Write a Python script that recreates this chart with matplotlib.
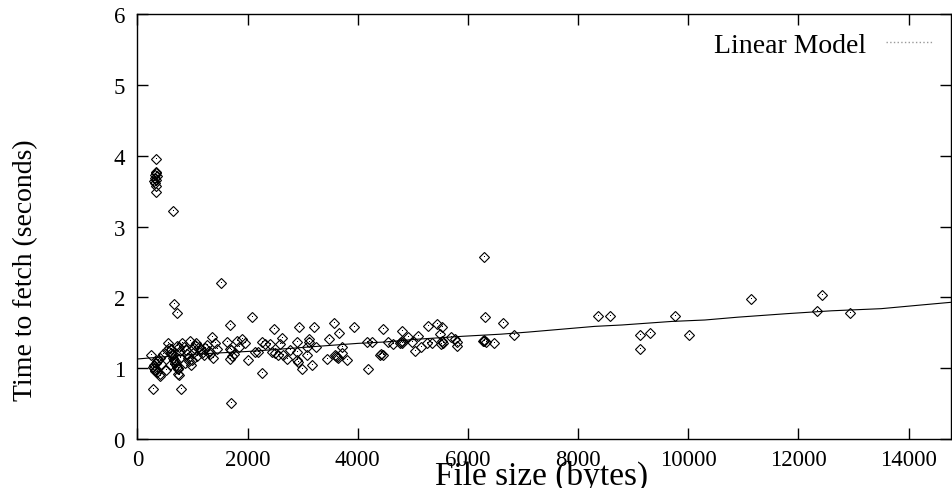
import matplotlib
matplotlib.use('Agg')
import matplotlib.pyplot as plt
from matplotlib.lines import Line2D

plt.rc('font', family='serif')
plt.rc('font', serif=['Liberation Serif', 'DejaVu Serif'])

# measured fetches: file size (bytes) / time (seconds)
size_top = [340, 330, 345, 320, 350, 310, 335, 300, 325, 340, 345, 645, 1510, 662, 711, 6290]
time_top = [3.96, 3.77, 3.75, 3.73, 3.71, 3.68, 3.66, 3.64, 3.62, 3.57, 3.49, 3.22, 2.20, 1.90, 1.78, 2.57]

size_hi = [1680, 2080, 2480, 2930, 3200, 3570, 3660, 3930, 4450, 4810, 5280, 5440, 5520,
           6310, 6630, 6840, 5490, 5095, 4915]
time_hi = [1.61, 1.72, 1.55, 1.58, 1.58, 1.64, 1.50, 1.58, 1.55, 1.52, 1.59, 1.62, 1.58,
           1.72, 1.64, 1.47, 1.48, 1.45, 1.44]

size_far = [8365, 8575, 9120, 9300, 9120, 9755, 10015, 11135, 12430, 12345, 12930]
time_far = [1.73, 1.73, 1.47, 1.49, 1.27, 1.73, 1.47, 1.98, 2.03, 1.81, 1.78]

size_low = [287, 790, 1697, 2260, 2980, 3160, 4180]
time_low = [0.71, 0.71, 0.51, 0.93, 0.99, 1.05, 0.99]

size_mid = [2260, 2315, 2405, 2585, 2625, 2890, 3115, 3115, 3475, 3250, 3705, 3070, 2130,
            2440, 2495, 2550, 2640, 2715, 2770, 2900, 2900, 2910, 3070, 3435, 3590, 3620,
            3640, 3610, 3710, 3795, 4160, 4250, 4430, 4400, 4460, 4550, 4640, 4765, 4790,
            4810, 4800, 4975, 5035, 5140, 5250, 5340, 5510, 5530, 5545, 5700, 5760, 5805,
            5805, 6275, 6300, 6325, 6300, 6475]
time_mid = [1.37, 1.34, 1.34, 1.34, 1.43, 1.37, 1.41, 1.37, 1.41, 1.30, 1.30, 1.30, 1.23,
            1.23, 1.21, 1.19, 1.19, 1.13, 1.25, 1.23, 1.11, 1.09, 1.19, 1.13, 1.18, 1.16,
            1.14, 1.17, 1.21, 1.11, 1.37, 1.37, 1.20, 1.18, 1.19, 1.37, 1.34, 1.36, 1.37,
            1.36, 1.38, 1.37, 1.24, 1.30, 1.36, 1.36, 1.34, 1.39, 1.36, 1.44, 1.41, 1.37,
            1.32, 1.39, 1.40, 1.37, 1.38, 1.36]

size_dense = [245, 280, 300, 310, 330, 350, 360, 380, 300, 320, 400, 420, 408, 408, 463,
              555, 711, 540, 580, 600, 620, 650, 660, 680, 700, 720, 740, 760, 610, 640,
              690, 730, 770, 510, 735, 753, 780, 800, 590,
              953, 850, 880, 900, 920, 940, 970, 1000, 1020, 1050, 1080, 990, 1060, 870,
              1346, 1120, 1150, 1180, 1200, 1230, 1260, 1290, 1320, 1380, 1410, 1440,
              1620, 1800, 1900, 1680, 1680, 2005, 1750, 1720, 1850, 1950, 2190, 1700]
time_dense = [1.19, 1.02, 1.05, 0.98, 1.08, 0.95, 1.10, 1.12, 1.00, 0.96, 1.15, 1.06, 0.92, 0.89, 1.20,
              1.36, 1.32, 1.25, 1.28, 1.22, 1.18, 1.15, 1.12, 1.10, 1.05, 1.02, 0.99, 1.30, 1.27, 1.20,
              1.08, 1.00, 1.24, 0.97, 0.92, 0.90, 1.14, 1.35, 1.04,
              1.39, 1.30, 1.25, 1.20, 1.15, 1.10, 1.05, 1.22, 1.28, 1.33, 1.17, 1.12, 1.35, 1.08,
              1.44, 1.30, 1.26, 1.22, 1.18, 1.28, 1.33, 1.24, 1.20, 1.15, 1.36, 1.27,
              1.37, 1.39, 1.41, 1.27, 1.13, 1.11, 1.20, 1.17, 1.30, 1.35, 1.23, 1.25]

# fitted model
model_size = [0, 1100, 2100, 3300, 4000, 4500, 5100, 5900, 6600, 7100, 7700, 8300, 8800,
              9700, 10300, 10900, 11800, 12600, 13500, 14200, 14770]
model_time = [1.13, 1.20, 1.24, 1.31, 1.35, 1.37, 1.41, 1.45, 1.48, 1.51, 1.55, 1.59, 1.61,
              1.66, 1.68, 1.72, 1.77, 1.81, 1.84, 1.89, 1.93]

sizes = size_top + size_hi + size_far + size_low + size_mid + size_dense
times = time_top + time_hi + time_far + time_low + time_mid + time_dense

fig = plt.figure(figsize=(9.52, 4.89), dpi=100)
ax = fig.add_axes([0.1444, 0.1002, 0.8546, 0.8691])

ax.plot(sizes, times, linestyle='none', marker='D', ms=4.6, mfc='none', mec='k', mew=0.8)
ax.plot(sizes, times, linestyle='none', marker=',', color='k')
ax.plot(model_size, model_time, color='k', lw=0.8)

ax.set_xlim(0, 14770)
ax.set_ylim(0, 6)
ax.set_xticks(range(0, 14001, 2000))
ax.set_yticks(range(0, 7))
ax.tick_params(direction='in', length=8, width=1, top=True, right=True, labelsize=16.5)
ax.tick_params(axis='x', pad=7)
ax.tick_params(axis='y', pad=9)
for s in ax.spines.values():
    s.set_linewidth(1)

ax.set_xlabel('File size (bytes)', fontsize=24)
ax.xaxis.set_label_coords(0.497, -0.048)
ax.set_ylabel('Time to fetch (seconds)', fontsize=20, va='center')
ax.yaxis.set_label_coords(-0.137, 0.4)

proxy = Line2D([], [], color='0.6', ls=':', lw=1)
ax.legend([proxy], ['Linear Model'], loc='upper right', frameon=False, markerfirst=False,
          fontsize=20, handlelength=1.7, handletextpad=0.7, borderaxespad=0.25)

fig.savefig('out.png', dpi=100)
